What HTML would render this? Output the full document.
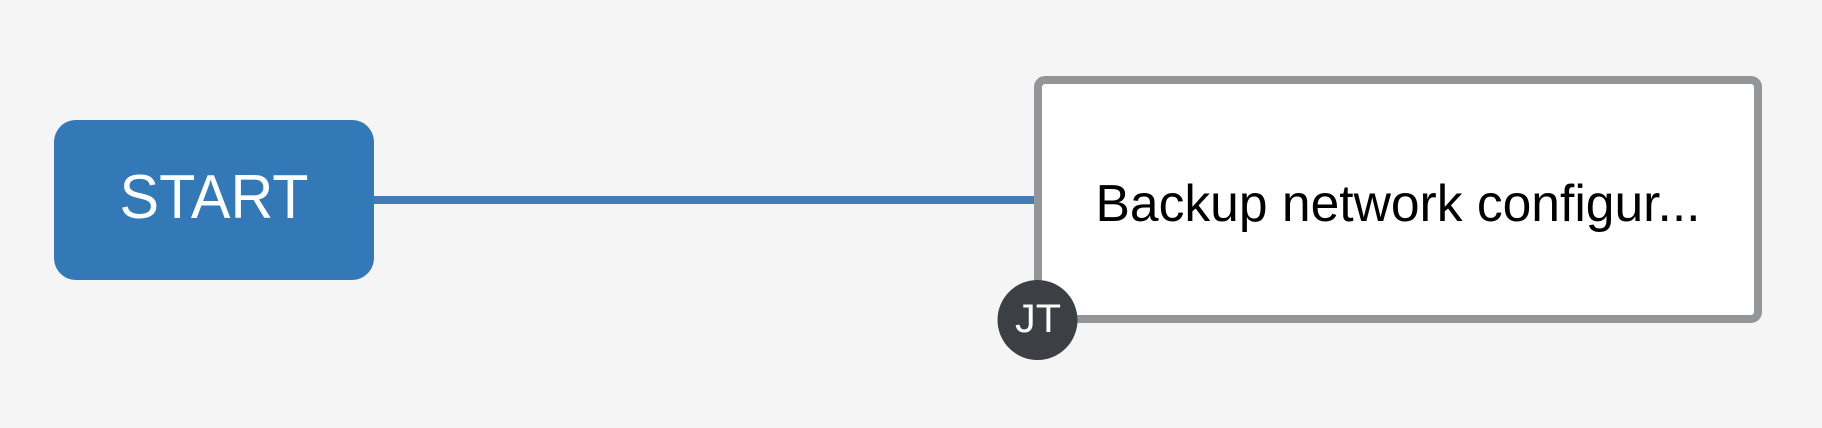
<!DOCTYPE html>
<html><head><meta charset="utf-8"><style>
html,body{margin:0;padding:0;background:#f5f5f5;}
svg{display:block;}
</style></head><body>
<svg width="1822" height="428" viewBox="0 0 1822 428" xmlns="http://www.w3.org/2000/svg">
<rect width="1822" height="428" fill="#f5f5f5"/>
<rect x="370" y="196" width="668" height="8" fill="#437bb5"/>
<rect x="54" y="120" width="320" height="160" rx="22" fill="#3378b7"/>
<text x="214" y="218" text-anchor="middle" font-family="Liberation Sans, sans-serif" font-size="62" fill="#fff" textLength="189" lengthAdjust="spacingAndGlyphs">START</text>
<rect x="1038" y="80" width="720" height="239" rx="7" fill="#fff" stroke="#939598" stroke-width="8"/>
<text x="1398" y="221" text-anchor="middle" font-family="Liberation Sans, sans-serif" font-size="52" fill="#000" textLength="605" lengthAdjust="spacingAndGlyphs">Backup network configur...</text>
<circle cx="1037.5" cy="320" r="40" fill="#3c3f43"/>
<text x="1038" y="332" text-anchor="middle" font-family="Liberation Sans, sans-serif" font-size="40" fill="#fff" textLength="46" lengthAdjust="spacingAndGlyphs">JT</text>
</svg>
</body></html>
